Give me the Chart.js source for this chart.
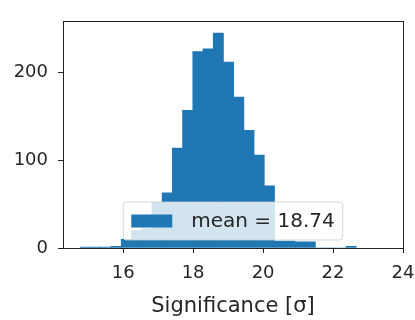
<!DOCTYPE html>
<html>
<head>
<meta charset="utf-8">
<script src="https://cdn.jsdelivr.net/npm/chart.js@4.4.1/dist/chart.umd.min.js"></script>
<style>
  html, body { margin: 0; padding: 0; background: #fff; }
  #wrap { width: 415px; height: 320px; }
</style>
</head>
<body>
<div id="wrap"><canvas id="histChart" width="415" height="320"></canvas></div>
<script>
// histogram bins (centres, in sigma) and counts
const binCenters = [14.922, 15.214, 15.506, 15.799, 16.091, 16.383, 16.675, 16.967, 17.260,
    17.552, 17.844, 18.136, 18.428, 18.721, 19.013, 19.305, 19.597, 19.889, 20.182,
    20.474, 20.766, 21.058, 21.350, 21.643, 21.935, 22.227, 22.519];
const counts = [1, 1, 1, 2, 10, 20, 22, 52, 63, 114, 157, 224, 227, 245, 212,
    172, 134, 106, 71, 8, 8, 7, 7, 0, 0, 0, 2];
const xTicks = [16, 18, 20, 22, 24];
const yTicks = [0, 100, 200];
const meanValue = 18.74;
const xTitle = 'Significance [σ]';

const barColor = '#1f77b4';
const textColor = '#262626';
const fontFamily = "'DejaVu Sans', sans-serif";

// matplotlib style box around the plot
const frame = {
    id: 'frame',
    afterDatasetsDraw(chart) {
        const { ctx, chartArea: a } = chart;
        ctx.save();
        ctx.strokeStyle = '#222';
        ctx.lineWidth = 1;
        ctx.strokeRect(Math.round(a.left) + 0.5, Math.round(a.top) + 0.5,
            Math.round(a.right - a.left), Math.round(a.bottom - a.top));
        ctx.restore();
    }
};

// legend sitting inside the axes, lower centre, half see-through
const insideLegend = {
    id: 'insideLegend',
    afterDatasetsDraw(chart) {
        const { ctx, chartArea } = chart;
        const ds = chart.data.datasets[0];
        ctx.save();
        ctx.font = '20px ' + fontFamily;
        const tw = ctx.measureText(ds.label).width;
        const pad = 8, handleW = 41, handleH = 13, gap = 19, h = 38;
        const w = pad + handleW + gap + tw + pad;
        const x = (chartArea.left + chartArea.right) / 2 - w / 2;
        const y = chartArea.bottom - 8 - h;
        ctx.beginPath();
        ctx.roundRect(x, y, w, h, 3);
        ctx.fillStyle = 'rgba(255,255,255,0.8)';
        ctx.fill();
        ctx.strokeStyle = 'rgba(204,204,204,0.8)';
        ctx.lineWidth = 1;
        ctx.stroke();
        ctx.fillStyle = ds.backgroundColor;
        ctx.fillRect(x + pad, y + h / 2 - handleH / 2, handleW, handleH);
        ctx.fillStyle = textColor;
        ctx.textBaseline = 'middle';
        ctx.fillText(ds.label, x + pad + handleW + gap, y + h / 2 + 1);
        ctx.restore();
    }
};

const ctx = document.getElementById('histChart').getContext('2d');

new Chart(ctx, {
    type: 'bar',
    data: {
        datasets: [{
            label: 'mean = ' + meanValue.toFixed(2),
            data: binCenters.map((c, i) => ({ x: c, y: counts[i] })),
            backgroundColor: barColor,
            borderWidth: 0,
            barPercentage: 1,
            categoryPercentage: 1
        }]
    },
    options: {
        responsive: false,
        animation: false,
        layout: { padding: { top: 10, right: 12, bottom: 0, left: 0 } },
        plugins: {
            legend: { display: false },
            tooltip: { enabled: false }
        },
        scales: {
            x: {
                type: 'linear',
                offset: false,
                min: 14.28,
                max: 24,
                afterBuildTicks: s => { s.ticks = xTicks.map(v => ({ value: v })); },
                afterFit: s => {
                    s.height = 72;
                    s.paddingLeft = 0;
                    s.paddingRight = 0;
                },
                grid: { display: true, offset: false, drawOnChartArea: false, drawTicks: true, tickLength: 5, color: '#222' },
                border: { display: false },
                ticks: {
                    color: textColor,
                    font: { family: fontFamily, size: 18 },
                    padding: 10,
                    maxRotation: 0
                },
                title: {
                    display: true,
                    text: xTitle,
                    color: textColor,
                    font: { family: fontFamily, size: 21 },
                    padding: { top: 0, bottom: 1 }
                }
            },
            y: {
                min: 0,
                max: 259,
                afterBuildTicks: s => { s.ticks = yTicks.map(v => ({ value: v })); },
                afterFit: s => { s.width = 63; },
                grid: { display: true, drawOnChartArea: false, drawTicks: true, tickLength: 5, color: '#222' },
                border: { display: false },
                ticks: {
                    color: textColor,
                    font: { family: fontFamily, size: 18 },
                    padding: 10
                }
            }
        }
    },
    plugins: [frame, insideLegend]
});
</script>
</body>
</html>
